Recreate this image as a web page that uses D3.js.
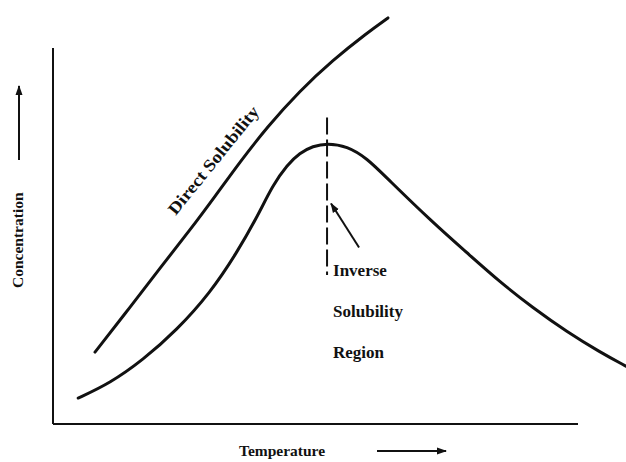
<!DOCTYPE html>
<html>
<head>
<meta charset="utf-8">
<script src="https://cdn.jsdelivr.net/npm/d3@7"></script>
<style>
  body { margin: 0; background: #fff; }
  text { font-family: "Liberation Serif", "Times New Roman", serif; font-weight: bold; fill: #111; }
</style>
</head>
<body>
<div id="chart"></div>
<script>
// values (arbitrary units, 0-100 on each axis)
var directTemp = [8.0, 14.7, 20.4, 26.1, 30.9, 35.6, 40.8, 47.0, 53.3, 59.8, 63.8];
var directConc = [19.1, 31.1, 41.5, 51.6, 60.6, 69.7, 79.0, 88.6, 96.8, 104.0, 108.0];

var inverseTemp = [4.8, 10.9, 17.1, 23.6, 29.9, 35.0, 38.9, 41.9, 44.6, 47.0, 49.5, 52.2, 56.0, 59.8, 63.6, 72.4, 78.9, 85.1, 91.4, 97.9, 104.2, 109.1];
var inverseConc = [6.9, 10.9, 17.0, 25.0, 34.8, 45.5, 55.1, 63.6, 68.9, 72.1, 73.9, 74.7, 73.9, 70.7, 65.4, 53.5, 45.5, 37.8, 30.9, 24.5, 19.1, 15.4];

var peakTemp = 52.2;
var peakRange = [81.5, 39.6];

var xLabel = "Temperature", yLabel = "Concentration";
var regionLabel = ["Inverse", "Solubility", "Region"];
var curveLabel = "Direct Solubility";

function drawChart(placement, w, h) {
    var margins = {top: 48, right: 48, bottom: 38, left: 53};

    var svg = d3.select(placement).append("svg")
        .attr("width", w).attr("height", h);

    var defs = svg.append("defs");
    defs.append("marker")
        .attr("id", "head")
        .attr("viewBox", "0 0 10 10")
        .attr("refX", 9).attr("refY", 5)
        .attr("markerWidth", 5).attr("markerHeight", 5)
        .attr("markerUnits", "strokeWidth")
        .attr("orient", "auto")
        .append("path")
        .attr("d", "M0,1.5 L10,5 L0,8.5 Z")
        .attr("fill", "#111");

    var x = d3.scaleLinear().domain([0, 100]).range([margins.left, w - margins.right]);
    var y = d3.scaleLinear().domain([0, 100]).range([h - margins.bottom, margins.top]);

    // axes, drawn as plain lines (no ticks)
    svg.append("line")
        .attr("x1", x(0)).attr("x2", x(0))
        .attr("y1", y(0)).attr("y2", y(100))
        .attr("stroke", "#111").attr("stroke-width", 2);
    svg.append("line")
        .attr("x1", x(0)).attr("x2", x(100))
        .attr("y1", y(0)).attr("y2", y(0))
        .attr("stroke", "#111").attr("stroke-width", 2);

    var line = d3.line()
        .x(function(d) { return x(d[0]); })
        .y(function(d) { return y(d[1]); })
        .curve(d3.curveBasis);

    var direct = d3.zip(directTemp, directConc);
    var inverse = d3.zip(inverseTemp, inverseConc);

    svg.append("path")
        .datum(direct)
        .attr("d", line)
        .attr("fill", "none")
        .attr("stroke", "#111")
        .attr("stroke-width", 3)
        .attr("stroke-linecap", "round");

    svg.append("path")
        .datum(inverse)
        .attr("d", line)
        .attr("fill", "none")
        .attr("stroke", "#111")
        .attr("stroke-width", 3)
        .attr("stroke-linecap", "round");

    // dashed line through the peak
    svg.append("line")
        .attr("x1", x(peakTemp)).attr("x2", x(peakTemp))
        .attr("y1", y(peakRange[0])).attr("y2", y(peakRange[1]))
        .attr("stroke", "#111")
        .attr("stroke-width", 2)
        .attr("stroke-dasharray", "17,5");

    // arrow pointing at the dashed line
    svg.append("line")
        .attr("x1", x(peakTemp) + 32).attr("y1", y(peakRange[0]) + 130)
        .attr("x2", x(peakTemp) + 4).attr("y2", y(peakRange[0]) + 86)
        .attr("stroke", "#111")
        .attr("stroke-width", 2)
        .attr("marker-end", "url(#head)");

    svg.selectAll(".region")
        .data(regionLabel)
        .enter().append("text")
        .attr("class", "region")
        .attr("x", x(peakTemp) + 6)
        .attr("y", function(d, i) { return y(peakRange[1]) + 1 + i * 41; })
        .attr("font-size", "17px")
        .text(function(d) { return d; });

    // label along the direct solubility curve
    svg.append("text")
        .attr("transform", "translate(" + (x(22.6) + 4) + "," + (y(53.2) - 8) + ") rotate(-51)")
        .attr("font-size", "17px")
        .attr("textLength", 134)
        .attr("lengthAdjust", "spacingAndGlyphs")
        .text(curveLabel);

    // axis titles with arrows
    svg.append("text")
        .attr("x", 239).attr("y", h - 6)
        .attr("font-size", "15.5px")
        .text(xLabel);
    svg.append("line")
        .attr("x1", 377).attr("x2", 446)
        .attr("y1", h - 11).attr("y2", h - 11)
        .attr("stroke", "#111").attr("stroke-width", 2)
        .attr("marker-end", "url(#head)");

    svg.append("text")
        .attr("transform", "translate(23,288) rotate(-90)")
        .attr("font-size", "15.5px")
        .text(yLabel);
    svg.append("line")
        .attr("x1", 19).attr("x2", 19)
        .attr("y1", 160).attr("y2", 86)
        .attr("stroke", "#111").attr("stroke-width", 2)
        .attr("marker-end", "url(#head)");
}

drawChart("#chart", 626, 462);
</script>
</body>
</html>
